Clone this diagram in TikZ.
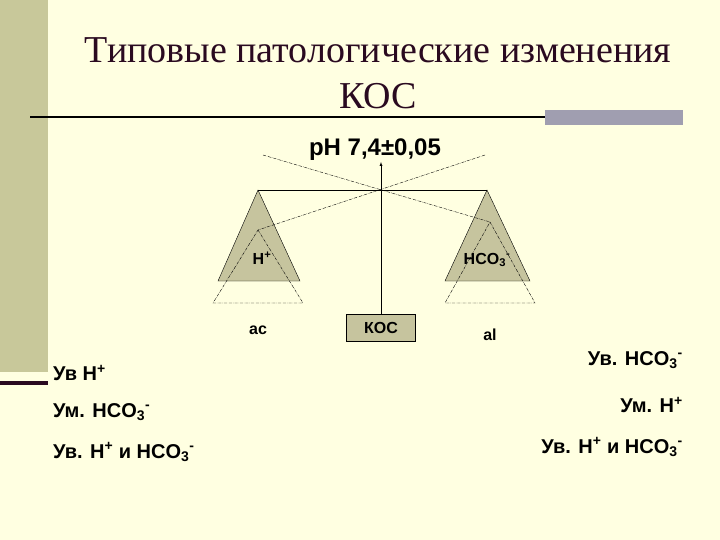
\documentclass[tikz,border=0pt]{standalone}
\usepackage{fontspec}
\setmainfont{Liberation Serif}
\newfontfamily\ars{Liberation Sans}
\definecolor{bg}{HTML}{FFFFE1}
\definecolor{strip}{HTML}{C8C89A}
\definecolor{tri}{HTML}{C6C49E}
\definecolor{bar}{HTML}{A09EB0}
\definecolor{dk}{HTML}{2A0A20}
\newcommand{\hplus}{H\textsuperscript{+}}
\newcommand{\hco}{HCO\textsubscript{3}\textsuperscript{-}}
\begin{document}
\begin{tikzpicture}[x=1pt,y=-1pt,
  lbl/.style={font=\ars\bfseries\fontsize{20}{22}\selectfont,inner sep=0pt},
  sm/.style={font=\ars\bfseries\fontsize{16}{18}\selectfont,inner sep=0pt},
  dd/.style={densely dash dot,thin}]
\useasboundingbox (0,0) rectangle (720,540);
\fill[bg] (0,0) rectangle (720,540);
\fill[strip] (0,0) rectangle (48,372);
\fill[dk] (0,381) rectangle (48,385);
\node[font=\fontsize{38}{42}\selectfont,text=dk] (t1) at (378,50) {Типовые патологические изменения};
\node[font=\fontsize{38}{42}\selectfont,text=dk] (t2) at (378,96) {КОС};
\draw[line width=2pt] (30,117) -- (545,117);
\fill[bar] (545,110) rectangle (683,125);
\fill[tri,draw=black] (258,190) -- (300,281) -- (218,281) -- cycle;
\fill[tri,draw=black] (487,190) -- (530,281) -- (445,281) -- cycle;
\draw (258,190) -- (487,190);
\draw[dd] (258,230) -- (303,303) -- (213,303) -- cycle;
\draw[dd] (490,222) -- (535,303) -- (445,303) -- cycle;
\draw[dd] (485,155) -- (258,230);
\draw[dd] (263,155) -- (490,222);
\node[lbl,font=\ars\bfseries\fontsize{24}{26}\selectfont] (ph) at (375,150) {pH 7,4±0,05};
\node[sm,draw=black,fill=tri,minimum width=69pt,minimum height=27pt] (kos) at (381,328) {КОС};
\draw[-latex] (kos.north) -- (381,162);
\node[sm] (h) at (262,258) {\hplus};
\node[sm] (hc) at (487,260) {\hco};
\node[sm] (ac) at (258,330) {ac};
\node[sm] (al) at (490,335) {al};
\node[lbl,anchor=west] (l1) at (53,373) {Ув \hplus};
\node[lbl,anchor=west] (l2) at (53,412) {Ум. \hco};
\node[lbl,anchor=west] (l3) at (53,452) {Ув. \hplus{} и \hco};
\node[lbl,anchor=east] (r1) at (683,360) {Ув. \hco};
\node[lbl,anchor=east] (r2) at (683,405) {Ум. \hplus};
\node[lbl,anchor=east] (r3) at (683,447) {Ув. \hplus{} и \hco};
\end{tikzpicture}
\end{document}
